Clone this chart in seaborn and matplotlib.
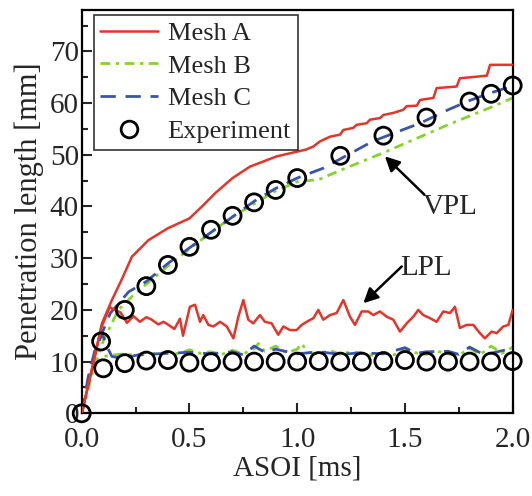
import matplotlib
matplotlib.use("Agg")
import matplotlib.pyplot as plt
import seaborn as sns
from matplotlib.lines import Line2D
from matplotlib.ticker import MultipleLocator

# Mesh A (red) vapour / liquid penetration
a_vpl_x = [0, 0.05, 0.094, 0.14, 0.187, 0.233, 0.31, 0.40, 0.50, 0.558, 0.62, 0.70, 0.78, 0.905, 1.04,
           1.075, 1.106, 1.152, 1.199, 1.214, 1.26, 1.276, 1.322, 1.338, 1.384, 1.40, 1.446, 1.492, 1.508,
           1.555, 1.57, 1.632, 1.647, 1.74, 1.755, 1.88, 1.895, 2.0]
a_vpl_y = [0, 9, 17.4, 21.9, 26.0, 30.3, 33.5, 35.8, 37.7, 40.0, 42.6, 45.5, 47.7, 49.7, 51.0,
           51.6, 52.6, 53.5, 53.9, 54.8, 55.2, 55.8, 56.1, 56.8, 57.1, 57.7, 58.1, 58.7, 59.4,
           59.5, 60.6, 61.0, 62.9, 63.2, 64.8, 65.3, 67.4, 67.4]
a_lpl_x = [0, 0.05, 0.09, 0.13, 0.18, 0.21, 0.24, 0.27, 0.30, 0.325, 0.355, 0.38, 0.41,
           0.43, 0.456, 0.47, 0.502, 0.526, 0.549, 0.564, 0.588, 0.611, 0.642,
           0.673, 0.704, 0.727, 0.75, 0.773, 0.796, 0.827, 0.85, 0.881, 0.912,
           0.936, 0.966, 0.997, 1.021, 1.044, 1.075, 1.098, 1.121, 1.152, 1.183,
           1.214, 1.245, 1.268, 1.299, 1.33, 1.353, 1.384, 1.415, 1.446, 1.477,
           1.508, 1.539, 1.562, 1.585, 1.616, 1.647, 1.678, 1.709, 1.732, 1.755,
           1.786, 1.817, 1.848, 1.871, 1.902, 1.926, 1.956, 1.98, 2.0]
a_lpl_y = [0, 9, 16.5, 20.5, 19.5, 17.5, 18.8, 17.7, 18.6, 18.1, 17.2, 17.7, 16.9,
           16.3, 18.3, 15.0, 20.6, 21.0, 17.7, 19.0, 17.1, 16.8, 17.7,
           16.8, 14.5, 18.7, 21.9, 18.1, 17.4, 19.0, 17.7, 17.4, 15.2,
           16.8, 16.1, 16.1, 17.1, 17.7, 18.4, 20.0, 18.1, 19.0, 19.4,
           21.9, 18.7, 17.1, 19.7, 19.7, 19.0, 19.7, 18.7, 18.1, 15.8,
           17.4, 18.7, 20.0, 19.0, 18.4, 17.7, 19.7, 19.4, 20.6, 16.5,
           17.1, 17.1, 15.5, 14.5, 15.8, 15.5, 16.8, 17.1, 20.0]

# Mesh B (green)
b_vpl_x = [0, 0.05, 0.1, 0.17, 0.233, 0.3, 0.4, 0.5, 0.6, 0.7, 0.8, 0.9, 1.0, 1.1, 1.2, 1.3, 1.4,
           1.5, 1.6, 1.7, 1.8, 1.9, 2.0]
b_vpl_y = [0, 8, 14, 20, 22.6, 25, 28.5, 31.8, 35, 38, 40.5, 43, 44.8, 45.2, 47.0, 48.7, 50.4,
           52.2, 54.0, 55.8, 57.5, 59.2, 61.0]
b_lpl_x = [0, 0.03, 0.06, 0.1, 0.15, 0.2, 0.25, 0.3, 0.35, 0.4, 0.45, 0.5, 0.55, 0.6, 0.65, 0.7,
           0.75, 0.8, 0.82, 0.85, 0.9, 0.95, 1.0, 1.02, 1.05, 1.1, 1.15, 1.2, 1.25, 1.3, 1.35, 1.4,
           1.45, 1.5, 1.55, 1.6, 1.65, 1.7, 1.75, 1.8, 1.85, 1.9, 1.95, 2.0]
b_lpl_y = [0, 5, 9.5, 11, 11.3, 11.5, 11.2, 11.8, 11.4, 12.0, 11.5, 12.3, 11.6, 11.9, 11.4, 12.2,
           11.5, 12.5, 13.5, 12.0, 13.0, 11.7, 12.4, 13.5, 11.8, 11.5, 12.2, 11.4, 11.9, 11.6, 11.2, 11.8,
           11.3, 12.5, 11.7, 11.4, 12.0, 11.5, 11.2, 12.6, 11.4, 13.0, 11.6, 12.8]

# Mesh C (blue)
c_vpl_x = [0, 0.03, 0.06, 0.094, 0.133, 0.218, 0.3, 0.4, 0.5, 0.6, 0.7, 0.8, 0.9, 1.0, 1.12, 1.2,
           1.35, 1.5, 1.57, 1.7, 1.8, 1.9, 2.0]
c_vpl_y = [0, 7, 12, 15.5, 19.4, 23.5, 25.5, 29, 32, 35, 38, 41, 43.5, 45.5, 47.4, 49.2,
           52.6, 55.0, 56.1, 58.7, 60.5, 62.0, 63.3]
c_lpl_x = [0, 0.05, 0.094, 0.117, 0.14, 0.19, 0.25, 0.3, 0.4, 0.5, 0.6, 0.7, 0.75, 0.8, 0.85, 0.9,
           1.0, 1.1, 1.2, 1.3, 1.4, 1.5, 1.55, 1.6, 1.7, 1.75, 1.8, 1.85, 1.9, 2.0]
c_lpl_y = [0, 10, 15.5, 12.9, 11.0, 10.6, 11.2, 11.4, 11.6, 11.8, 11.5, 11.9, 11.3, 13.0, 11.8, 12.4,
           11.5, 11.9, 11.4, 11.7, 11.5, 12.7, 11.6, 11.9, 12.0, 11.4, 12.8, 11.7, 11.6, 12.6]

# Experiment
exp_vpl_x = [0, 0.09, 0.2, 0.3, 0.4, 0.5, 0.6, 0.7, 0.8, 0.9, 1.0, 1.2, 1.4, 1.6, 1.8, 1.9, 2.0]
exp_vpl_y = [0, 13.9, 20.0, 24.6, 28.7, 32.2, 35.5, 38.2, 40.8, 43.2, 45.5, 49.8, 53.7, 57.2, 60.3, 61.8, 63.4]
exp_lpl_x = [0.1, 0.2, 0.3, 0.4, 0.5, 0.6, 0.7, 0.8, 0.9, 1.0, 1.1, 1.2, 1.3, 1.4, 1.5, 1.6, 1.7, 1.8, 1.9, 2.0]
exp_lpl_y = [8.7, 9.7, 10.2, 10.3, 9.8, 9.9, 10.0, 10.0, 10.0, 10.0, 10.1, 10.0, 10.0, 10.1, 10.3,
             10.0, 10.0, 10.0, 10.0, 10.1]

x_ticks = [0.0, 0.5, 1.0, 1.5, 2.0]
x_tick_labels = ["0.0", "0.5", "1.0", "1.5", "2.0"]
y_ticks = [0, 10, 20, 30, 40, 50, 60, 70]

red = "#e5342a"
green = "#84d42c"
blue = "#3a54a8"

sns.set_style("ticks")
plt.rcParams["font.family"] = ["Liberation Serif", "DejaVu Serif"]

fig = plt.figure(figsize=(5.32, 4.96), dpi=100)
ax = fig.add_axes([0.1536, 0.1667, 0.8101, 0.8131])

for xs, ys in [(a_vpl_x, a_vpl_y), (a_lpl_x, a_lpl_y)]:
    sns.lineplot(x=xs, y=ys, ax=ax, color=red, lw=1.8, estimator=None, sort=False, zorder=3)
for xs, ys in [(b_vpl_x, b_vpl_y), (b_lpl_x, b_lpl_y)]:
    sns.lineplot(x=xs, y=ys, ax=ax, color=green, lw=2.0, estimator=None, sort=False,
                 zorder=2).lines[-1].set_dashes((3.5, 2.0, 1.2, 2.0))
for xs, ys in [(c_vpl_x, c_vpl_y), (c_lpl_x, c_lpl_y)]:
    sns.lineplot(x=xs, y=ys, ax=ax, color=blue, lw=2.0, estimator=None, sort=False,
                 zorder=2).lines[-1].set_dashes((5.5, 3.5))

for xs, ys in [(exp_vpl_x, exp_vpl_y), (exp_lpl_x, exp_lpl_y)]:
    sns.scatterplot(x=xs, y=ys, ax=ax, marker="o", s=150, linewidth=2.0,
                    edgecolor="black", zorder=4, clip_on=False)
    ax.collections[-1].set_facecolor("none")

ax.set_xlim(0, 2.0)
ax.set_ylim(0, 78)
ax.set_xticks(x_ticks, x_tick_labels)
ax.xaxis.set_minor_locator(MultipleLocator(0.25))
ax.set_yticks(y_ticks)
ax.yaxis.set_minor_locator(MultipleLocator(5))
ax.tick_params(which="both", direction="in", width=1.5, labelsize=21, top=False, right=False)
ax.tick_params(axis="x", pad=10)
ax.tick_params(axis="y", pad=2)
ax.tick_params(which="major", length=7)
ax.tick_params(which="minor", length=4)
for lab in ax.get_yticklabels():
    lab.set_verticalalignment("center_baseline")
for sp in ax.spines.values():
    sp.set_linewidth(1.6)
    sp.set_color("black")

ax.set_xlabel("ASOI [ms]", fontsize=21, labelpad=2)
ax.set_ylabel("Penetration length [mm]", fontsize=22, labelpad=4)

arrow = dict(arrowstyle="-|>", color="black", lw=1.8, mutation_scale=22, shrinkA=0, shrinkB=0)
ax.annotate("", xy=(1.407, 49.7), xytext=(1.59, 42.3), arrowprops=arrow)
ax.text(1.71, 39.9, "VPL", fontsize=21, ha="center", va="center")
ax.annotate("", xy=(1.307, 21.3), xytext=(1.485, 28.4), arrowprops=arrow)
ax.text(1.60, 28.2, "LPL", fontsize=21, ha="center", va="center")

handles = [
    Line2D([], [], color=red, lw=1.8),
    Line2D([], [], color=green, lw=2.0, dashes=(3.5, 2.0, 1.2, 2.0)),
    Line2D([], [], color=blue, lw=2.0, dashes=(5.5, 3.5)),
    Line2D([], [], ls="none", marker="o", ms=12, mfc="none", mec="black", mew=2.0),
]
leg = ax.legend(handles, ["Mesh A", "Mesh B", "Mesh C", "Experiment"], loc="upper left",
                bbox_to_anchor=(0.028, 0.988), fontsize=19, frameon=True, fancybox=False,
                edgecolor="black", handlelength=2.2, handletextpad=0.35, labelspacing=0.35,
                borderpad=0.25, borderaxespad=0.0)
leg.get_frame().set_linewidth(1.2)

fig.savefig("out.png", dpi=100)
